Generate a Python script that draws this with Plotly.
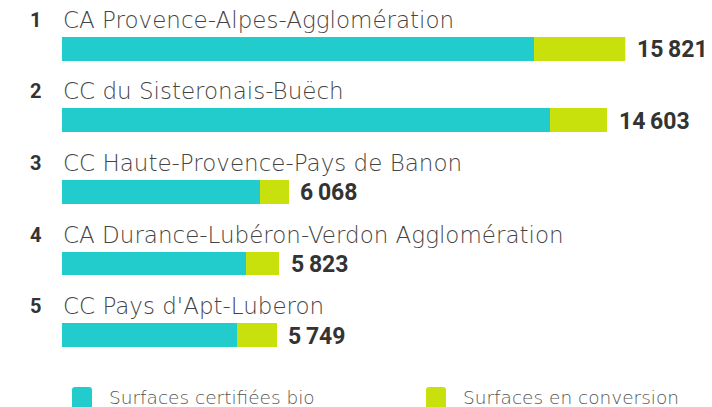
import plotly.graph_objects as go

# ---- data ----
rangs = ["1", "2", "3", "4", "5"]
territoires = [
    "CA Provence-Alpes-Agglomération",
    "CC du Sisteronais-Buëch",
    "CC Haute-Provence-Pays de Banon",
    "CA Durance-Lubéron-Verdon Agglomération",
    "CC Pays d'Apt-Luberon",
]
surfaces_bio = [12649, 13069, 5303, 4920, 4678]
surfaces_conversion = [3172, 1534, 765, 903, 1071]
totaux = [15821, 14603, 6068, 5823, 5749]
series_noms = ["Surfaces certifiées bio", "Surfaces en conversion"]
series_couleurs = ["#22CCCC", "#C8E00C"]

# ---- layout constants ----
OFF = 8              # page body margin
W, H = 712 - OFF, 407 - OFF
X_CAP = 15086        # axis end; the longest bar is truncated as in the original
LABEL_FONT = "DejaVu Sans"
NUM_FONT = "Roboto"

def px_x(p):
    return (p - OFF) / W

def px_y(p):
    return 1 - (p - OFF) / H

fig = go.Figure()
ypos = list(range(len(territoires)))
for nom, vals, col in zip(series_noms, [surfaces_bio, surfaces_conversion], series_couleurs):
    fig.add_trace(go.Bar(
        y=ypos, x=vals, orientation="h", name=nom, width=0.331,
        marker=dict(color=col, line=dict(width=0)),
        showlegend=False, hovertemplate=nom + ": %{x}<extra></extra>",
    ))

annotations = []
for i, (r, t, tot) in enumerate(zip(rangs, territoires, totaux)):
    annotations.append(dict(
        xref="paper", yref="y", x=px_x(35.5), y=i, yshift=29,
        text=f"<b>{r}</b>", showarrow=False, xanchor="center", yanchor="middle",
        font=dict(family=NUM_FONT, size=20, color="#333333"),
    ))
    annotations.append(dict(
        xref="x", yref="y", x=0, y=i, yshift=29, xshift=-1,
        text=t, showarrow=False, xanchor="left", yanchor="middle",
        font=dict(family=LABEL_FONT, size=23, color="#444444", weight=300),
    ))
    annotations.append(dict(
        xref="x", yref="y", x=min(tot, X_CAP), y=i, xshift=9.5, yshift=-1,
        text="<b>" + f"{tot:,}".replace(",", "\u2009") + "</b>",
        showarrow=False, xanchor="left", yanchor="middle",
        font=dict(family=NUM_FONT, size=23, color="#333333"),
    ))

shapes = []
legend_x = [72, 426]
for lx, nom, col in zip(legend_x, series_noms, series_couleurs):
    x0, x1 = px_x(lx), px_x(lx + 20)
    y0, y1 = px_y(387), px_y(412)
    rx, ry = 3 / W, 3 / H
    path = (f"M {x0+rx},{y0} L {x1-rx},{y0} Q {x1},{y0} {x1},{y0-ry} "
            f"L {x1},{y1+ry} Q {x1},{y1} {x1-rx},{y1} L {x0+rx},{y1} "
            f"Q {x0},{y1} {x0},{y1+ry} L {x0},{y0-ry} Q {x0},{y0} {x0+rx},{y0} Z")
    shapes.append(dict(type="path", xref="paper", yref="paper", path=path,
                       fillcolor=col, line=dict(width=0)))
    annotations.append(dict(
        xref="paper", yref="paper", x=px_x(lx + 35), y=px_y(397),
        text=nom, showarrow=False, xanchor="left", yanchor="middle",
        font=dict(family=LABEL_FONT, size=18.5, color="#555555", weight=300),
    ))

fig.update_layout(
    width=W, height=H, margin=dict(l=0, r=0, t=0, b=0),
    paper_bgcolor="white", plot_bgcolor="white", barmode="stack",
    showlegend=False,
    xaxis=dict(domain=[px_x(62), px_x(625.3)], range=[0, X_CAP], visible=False,
               fixedrange=True),
    yaxis=dict(domain=[px_y(370.9), px_y(12.9)], range=[4.5, -0.5], visible=False,
               fixedrange=True),
    annotations=annotations, shapes=shapes,
)

fig.write_html("out.html", config={"displayModeBar": False})
